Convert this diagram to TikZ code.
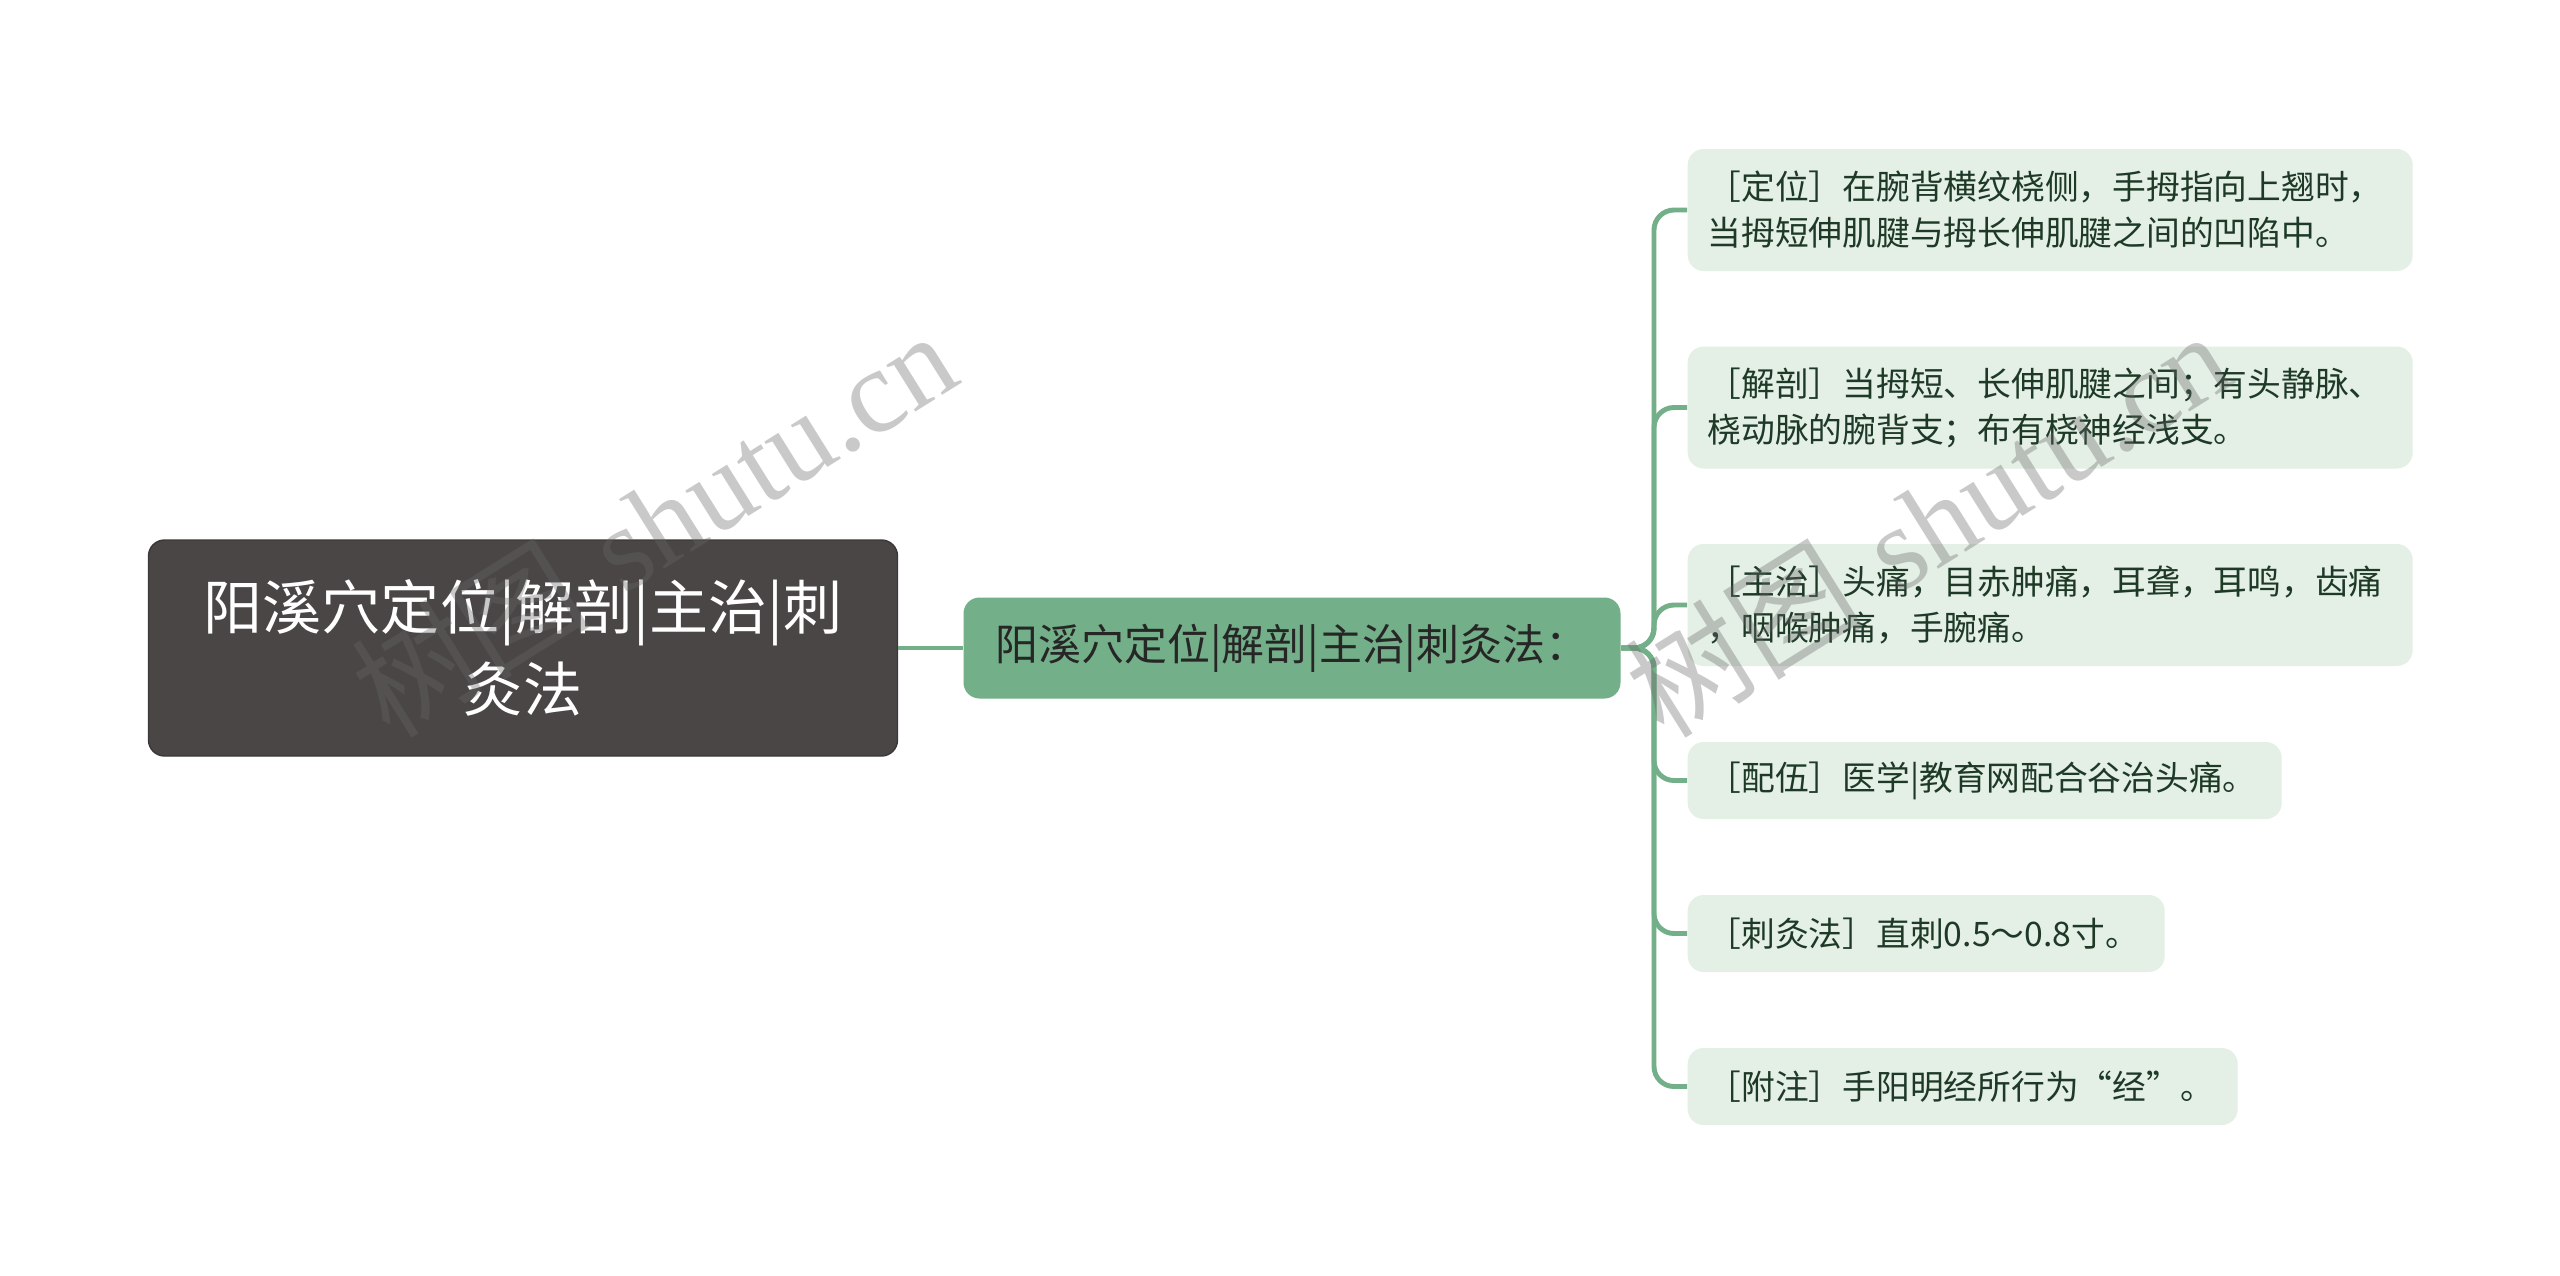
\documentclass[tikz,border=0pt]{standalone}
\usepackage{fontspec}
\newfontfamily\cjk{Noto Sans CJK SC}
\newfontfamily\wmfont{Liberation Serif}
\usetikzlibrary{positioning}
\usepackage{xcolor}
\definecolor{rootgray}{HTML}{4B4646}
\definecolor{midgreen}{HTML}{73AF88}
\definecolor{leafbg}{HTML}{E4EFE6}
\definecolor{leaftext}{HTML}{1E3A26}
\definecolor{linegreen}{HTML}{73AF88}

\begin{document}
\begin{tikzpicture}[
		rootbox/.style={fill=rootgray, draw=rootgray!80!black, rounded corners=0.16cm, text=white,
			font=\cjk\fontsize{16.8}{23.2}\selectfont, align=center,
			minimum width=7.49cm, minimum height=2.16cm, inner sep=0pt},
		midbox/.style={fill=midgreen, rounded corners=0.16cm, text=black!85,
			font=\cjk\fontsize{12.2}{15}\selectfont,
			minimum width=6.57cm, minimum height=1.01cm, inner sep=0pt},
		leafbox/.style={fill=leafbg, rounded corners=0.16cm, text=leaftext,
			font=\cjk\fontsize{9.6}{13.1}\selectfont, align=left, anchor=west,
			inner xsep=0.2cm, inner ysep=0pt},
		link/.style={draw=linegreen, line width=1.4pt, rounded corners=0.2cm},
		watermark/.style={text=black!60, opacity=0.35, font=\fontsize{34}{34}\selectfont, rotate=32}
	]
		% Page frame
		\fill[white] (0,0) rectangle (25.6,-12.75);
		\useasboundingbox (0,0) rectangle (25.6,-12.75);

		% Root and middle topic
		\node[rootbox] (root) at (5.23,-6.48) {阳溪穴定位|解剖|主治|刺\\灸法};
		\node[midbox] (mid) at (12.92,-6.48) {阳溪穴定位|解剖|主治|刺灸法：};

		% Leaves
		\node[leafbox, text width=6.85cm, minimum height=1.22cm] (def) at (16.87,-2.10)
			{［定位］在腕背横纹桡侧，手拇指向上翘时，\\当拇短伸肌腱与拇长伸肌腱之间的凹陷中。};
		\node[leafbox, text width=6.85cm, minimum height=1.22cm] (ana) at (16.87,-4.075)
			{［解剖］当拇短、长伸肌腱之间；有头静脉、\\桡动脉的腕背支；布有桡神经浅支。};
		\node[leafbox, text width=6.85cm, minimum height=1.22cm] (cure) at (16.87,-6.05)
			{［主治］头痛，目赤肿痛，耳聋，耳鸣，齿痛\\，咽喉肿痛，手腕痛。};
		\node[leafbox, text width=5.54cm, minimum height=0.77cm] (pair) at (16.87,-7.805)
			{［配伍］医学|教育网配合谷治头痛。};
		\node[leafbox, text width=4.37cm, minimum height=0.77cm] (needle) at (16.87,-9.335)
			{［刺灸法］直刺0.5～0.8寸。};
		\node[leafbox, text width=5.10cm, minimum height=0.77cm] (note) at (16.87,-10.865)
			{［附注］手阳明经所行为“经”。};

		% Connectors
		\coordinate (fork) at (16.54,-6.48);
		\draw[link] (root.east) -- (mid.west);
		\foreach \leaf in {def,ana,cure,pair,needle,note}
			\draw[link] (mid.east) -- (fork) |- (\leaf.west);

		% Watermarks
		\node[watermark] (wm1) at (6.53,-5.23) {{\cjk 树图} {\wmfont shutu.cn}};
		\node[watermark] (wm2) at (19.27,-5.23) {{\cjk 树图} {\wmfont shutu.cn}};
	\end{tikzpicture}
\end{document}
